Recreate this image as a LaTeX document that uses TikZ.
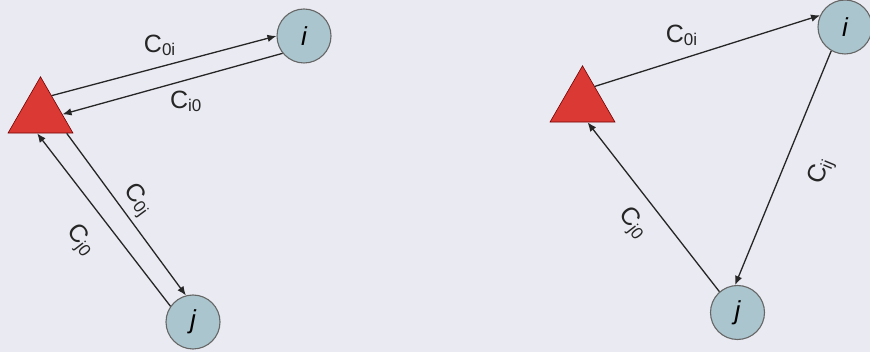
\documentclass[tikz,border=0pt]{standalone}
\usepackage{fontspec}
\setmainfont{Liberation Sans}
\usepackage{xcolor}
\usepackage{tikz}
\usetikzlibrary{positioning, arrows.meta, shapes.geometric}

\definecolor{fondo}{RGB}{234,234,242}
\definecolor{rojo}{RGB}{218,58,51}
\definecolor{celeste}{RGB}{170,197,206}

\newcommand{\csub}[1]{C\raisebox{-3pt}{\fontsize{17}{17}\selectfont #1}}

\begin{document}
\begin{tikzpicture}[x=1pt, y=-1pt,
  tri/.style={regular polygon, regular polygon sides=3, minimum size=75pt,
              inner sep=0pt, fill=rojo, draw=red!45!black, line width=0.6pt},
  circ/.style={circle, minimum size=54pt, inner sep=0pt, fill=celeste,
               draw=black!60, line width=1.1pt,
               font=\fontsize{26}{26}\selectfont\itshape},
  fl/.style={-{Latex[length=9pt, width=7.5pt]}, black!85, line width=1.3pt},
  et/.style={font=\fontsize{25}{25}\selectfont, inner sep=0pt, black!85}]
\useasboundingbox (0,0) rectangle (870,352);
\fill[fondo] (0,0) rectangle (870,352);
% left: out and back
\node[tri] (dep) at (40.5,114.3) {};
\node[circ] (ci) at (304,36) {i};
\node[circ] (cj) at (193,322) {j};
\draw[fl] (dep.59) -- node[et, above=11pt, pos=0.48]{\csub{0i}} (ci.180);
\draw[fl] (ci.219) -- node[et, below=10pt, pos=0.44]{\csub{i0}} (dep.0);
\draw[fl] (dep.-36) -- node[et, sloped, above=5pt, pos=0.475]{\csub{0j}} (cj.105);
\draw[fl] (cj.145) -- node[et, sloped, below=19pt, pos=0.49]{\csub{j0}} (dep.-100);
% right: one tour
\node[tri] (dep2) at (582.5,103.3) {};
\node[circ] (ci2) at (845,27) {i};
\node[circ] (cj2) at (737.5,312.5) {j};
\draw[fl] (dep2.54) -- node[et, above=13pt, pos=0.385]{\csub{0i}} (ci2.155);
\draw[fl] (ci2.240) -- node[et, sloped, below=24pt, pos=0.457]{\csub{ij}} (cj2.95);
\draw[fl] (cj2.131) -- node[et, sloped, below=14pt, pos=0.5]{\csub{j0}} (dep2.-75);
\end{tikzpicture}
\end{document}
